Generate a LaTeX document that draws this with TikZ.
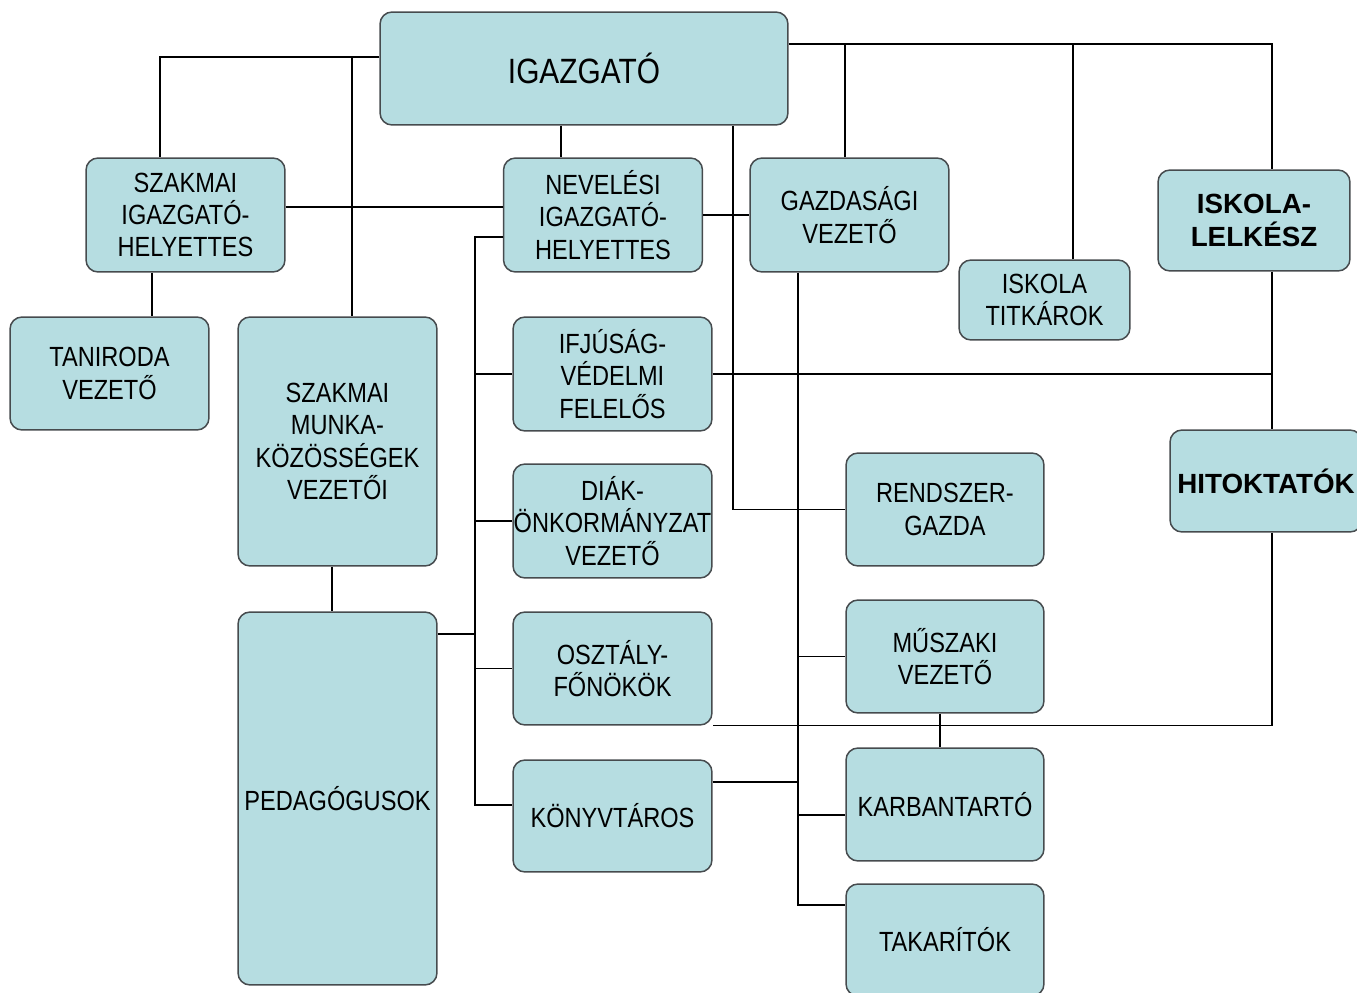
\documentclass[tikz,border=0pt]{standalone}
\usepackage{fontspec}
\newfontfamily\orgfont[FakeStretch=0.85]{Liberation Sans}
\newfontfamily\orgbold{Liberation Sans}
\definecolor{boxfill}{RGB}{182,221,225}
\definecolor{boxline}{RGB}{70,75,78}
\begin{document}
\begin{tikzpicture}[x=0.02cm,y=-0.02cm,line width=0.85pt,
    box/.style={draw=boxline,fill=boxfill,rounded corners=0.24cm,inner sep=0pt,align=center,
      font=\orgfont\fontsize{15.8}{18.4}\selectfont,minimum width=3.98cm,minimum height=2.28cm},
    boldbox/.style={box,font=\orgbold\bfseries\fontsize{15.8}{18.4}\selectfont,minimum width=3.84cm,minimum height=2.02cm}]
        \useasboundingbox (0,0) rectangle (1357,993);
        \node[box,minimum width=8.16cm,minimum height=2.26cm,font=\orgfont\fontsize{20}{24}\selectfont] (igaz) at (584,68.5) {IGAZGATÓ};
        \node[box] (szih) at (185.5,215) {SZAKMAI\\IGAZGATÓ-\\HELYETTES};
        \node[box] (nih) at (603,215) {NEVELÉSI\\IGAZGATÓ-\\HELYETTES};
        \node[box] (gv) at (849.5,215) {GAZDASÁGI\\VEZETŐ};
        \node[boldbox] (lelk) at (1254,220.5) {ISKOLA-\\LELKÉSZ};
        \node[box,minimum width=3.42cm,minimum height=1.6cm] (titk) at (1044.5,300) {ISKOLA\\TITKÁROK};
        \node[box,minimum height=2.26cm] (tani) at (109.5,373.5) {TANIRODA\\VEZETŐ};
        \node[box,minimum height=4.98cm] (szmk) at (337.5,441.5) {SZAKMAI\\MUNKA-\\KÖZÖSSÉGEK\\VEZETŐI};
        \node[box] (ifj) at (612.5,374) {IFJÚSÁG-\\VÉDELMI\\FELELŐS};
        \node[boldbox,minimum width=3.84cm,minimum height=2.04cm] (hit) at (1266,481) {HITOKTATÓK};
        \node[box] (diak) at (612.5,521) {DIÁK-\\ÖNKORMÁNYZAT\\VEZETŐ};
        \node[box,minimum width=3.96cm,minimum height=2.26cm] (rg) at (945,509.5) {RENDSZER-\\GAZDA};
        \node[box,minimum height=2.26cm] (of) at (612.5,668.5) {OSZTÁLY-\\FŐNÖKÖK};
        \node[box,minimum width=3.96cm,minimum height=2.26cm] (mv) at (945,656.5) {MŰSZAKI\\VEZETŐ};
        \node[box,minimum height=7.46cm] (ped) at (337.5,798.5) {PEDAGÓGUSOK};
        \node[box,minimum height=2.24cm] (kv) at (612.5,816) {KÖNYVTÁROS};
        \node[box,minimum width=3.96cm,minimum height=2.26cm] (kb) at (945,804.5) {KARBANTARTÓ};
        \node[box,minimum width=3.96cm,minimum height=2.24cm] (tak) at (945,940) {TAKARÍTÓK};
        \coordinate (lbus) at (352,57);
        \coordinate (nbus) at (475,237);
        \coordinate (gbus) at (798,272);
        \coordinate (rbus) at (1272,44);
        \draw (igaz.west |- lbus) -| (szih.north -| 160,0);
        \draw (lbus) -- (szmk.north -| lbus);
        \draw (szih.east |- 0,207) -- (nih.west |- 0,207);
        \draw (szih.south -| 152,0) -- (tani.north -| 152,0);
        \draw (szmk.south -| 332,0) -- (ped.north -| 332,0);
        \draw (igaz.south -| 561,0) -- (nih.north -| 561,0);
        \draw (nih.west |- nbus) -- (nbus) |- (kv.west |- 0,805);
        \draw (ifj.west -| nbus) -- (ifj.west);
        \draw (diak.west -| nbus) -- (diak.west);
        \draw (of.west -| nbus) -- (of.west);
        \draw (ped.east |- 0,634) -- (nbus |- 0,634);
        \draw (igaz.south -| 733,0) |- (rg.west);
        \draw (nih.east) -- (gv.west);
        \draw (igaz.east |- rbus) -| (lelk.north -| rbus);
        \draw (gv.north -| 845,0) -- (845,44);
        \draw (titk.north -| 1073,0) -- (1073,44);
        \draw (lelk.south -| rbus) -- (hit.north -| rbus);
        \draw (ifj.east) -- (ifj.east -| rbus);
        \draw (hit.south -| rbus) |- (of.south east);
        \draw (gv.south -| gbus) |- (tak.west |- 0,905);
        \draw (mv.west -| gbus) -- (mv.west);
        \draw (kv.east |- 0,782) -- (gbus |- 0,782);
        \draw (gbus |- 0,815) -- (kb.west |- 0,815);
        \draw (mv.south -| 940,0) -- (kb.north -| 940,0);
\end{tikzpicture}
\end{document}
